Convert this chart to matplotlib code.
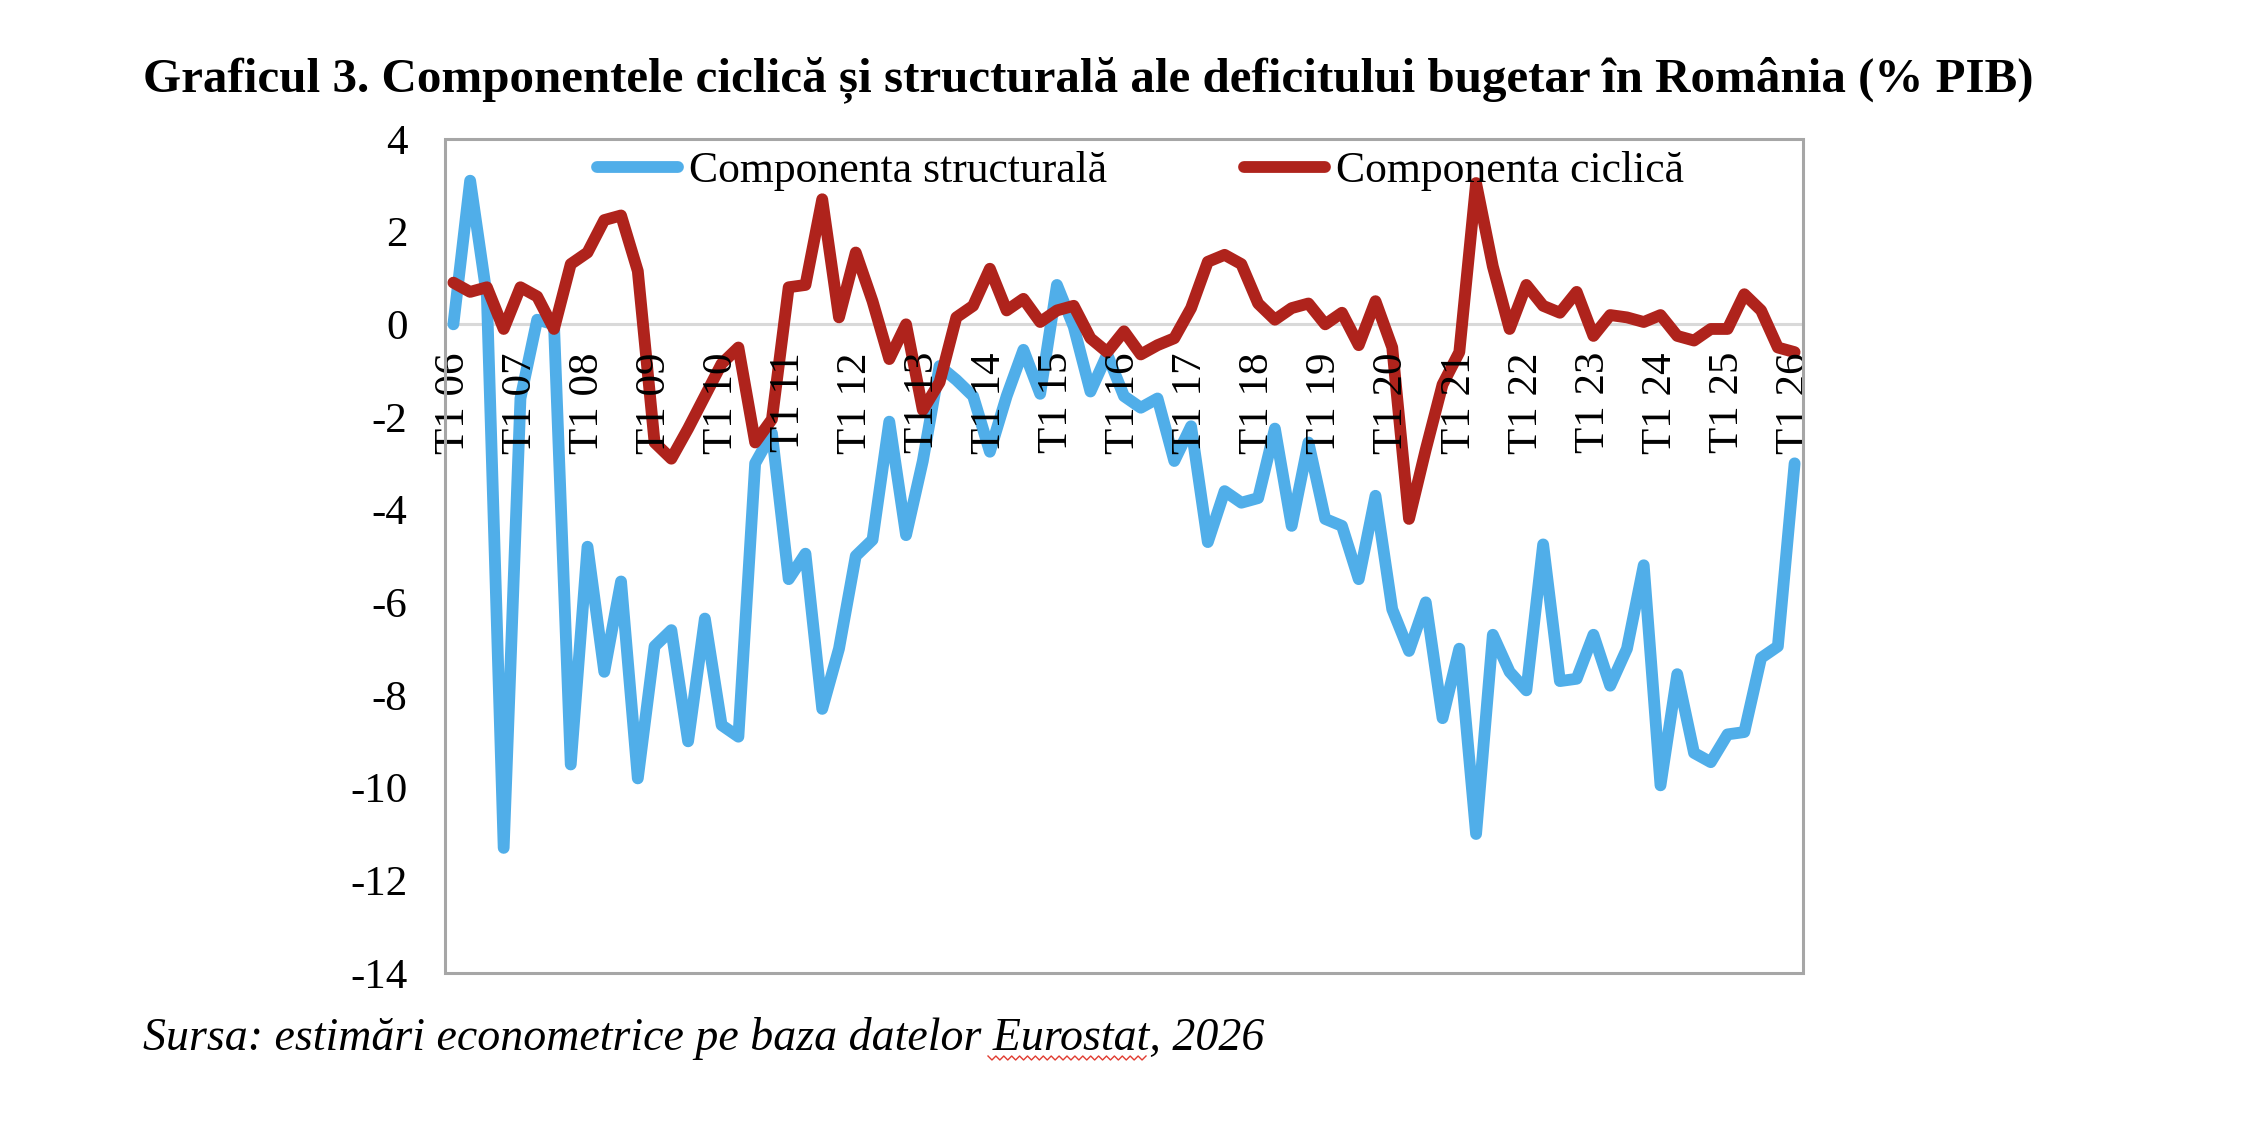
import matplotlib
matplotlib.use('Agg')
import matplotlib.pyplot as plt
import numpy as np
from matplotlib.patches import Rectangle

# ---------------- data ----------------
year_labels = ['T1 06', 'T1 07', 'T1 08', 'T1 09', 'T1 10', 'T1 11', 'T1 12',
               'T1 13', 'T1 14', 'T1 15', 'T1 16', 'T1 17', 'T1 18', 'T1 19',
               'T1 20', 'T1 21', 'T1 22', 'T1 23', 'T1 24', 'T1 25', 'T1 26']

structural = [0.0, 3.1, 0.6, -11.3, -1.6, 0.1, 0.0, -9.5,
              -4.8, -7.5, -5.55, -9.8, -6.95, -6.6, -9.0, -6.35,
              -8.65, -8.9, -3.0, -2.35, -5.5, -4.95, -8.3, -7.0,
              -5.0, -4.65, -2.1, -4.55, -2.95, -0.9, -1.2, -1.55,
              -2.75, -1.55, -0.55, -1.5, 0.85, -0.05, -1.45, -0.65,
              -1.55, -1.8, -1.6, -2.95, -2.2, -4.7, -3.6, -3.85,
              -3.75, -2.25, -4.35, -2.55, -4.2, -4.35, -5.5, -3.7,
              -6.15, -7.05, -6.0, -8.5, -7.0, -11.0, -6.7, -7.5,
              -7.9, -4.75, -7.7, -7.65, -6.7, -7.8, -7.0, -5.2,
              -9.95, -7.55, -9.25, -9.45, -8.85, -8.8, -7.2, -6.95,
              -3.0]

cyclical = [0.9, 0.7, 0.8, -0.1, 0.8, 0.6, -0.1, 1.3,
            1.55, 2.25, 2.35, 1.15, -2.55, -2.9, -2.25, -1.55,
            -0.85, -0.5, -2.55, -2.05, 0.8, 0.85, 2.7, 0.15,
            1.55, 0.5, -0.75, 0.0, -1.85, -1.25, 0.15, 0.4,
            1.2, 0.3, 0.55, 0.05, 0.3, 0.4, -0.3, -0.6,
            -0.15, -0.65, -0.45, -0.3, 0.35, 1.35, 1.5, 1.3,
            0.45, 0.1, 0.35, 0.45, 0.0, 0.25, -0.45, 0.5,
            -0.5, -4.2, -2.7, -1.3, -0.6, 3.05, 1.25, -0.1,
            0.85, 0.4, 0.25, 0.7, -0.25, 0.2, 0.15, 0.05,
            0.2, -0.25, -0.35, -0.1, -0.1, 0.65, 0.3, -0.5,
            -0.6]

y_ticks = [4, 2, 0, -2, -4, -6, -8, -10, -12, -14]

title = 'Graficul 3. Componentele ciclică și structurală ale deficitului bugetar în România (% PIB)'
source = 'Sursa: estimări econometrice pe baza datelor Eurostat, 2026'
name_struct = 'Componenta structurală'
name_cycl = 'Componenta ciclică'

# ---------------- style ----------------
BLUE = '#50AEE9'
RED = '#AF231C'
FRAME = '#A6A6A6'
ZERO = '#D9D9D9'
FS = 31

plt.rcParams['font.family'] = ['Liberation Serif', 'DejaVu Serif']

W, H = 2244, 1146
fig = plt.figure(figsize=(W / 100, H / 100), dpi=100)
L, R, T, B = 445, 1803, 139, 973
ax = fig.add_axes([L / W, 1 - B / H, (R - L) / W, (B - T) / H])

x = np.arange(len(structural))
ax.plot(x, structural, color=BLUE, lw=8.5, solid_joinstyle='round',
        solid_capstyle='round', label=name_struct, zorder=2)
ax.plot(x, cyclical, color=RED, lw=8.5, solid_joinstyle='round',
        solid_capstyle='round', label=name_cycl, zorder=2)

ax.set_xlim(-0.5, len(structural) - 0.5)
ax.set_ylim(min(y_ticks), max(y_ticks))
ax.set_yticks(y_ticks)
ax.set_yticklabels([str(v) for v in y_ticks])
ax.tick_params(axis='y', length=0, pad=27, labelsize=FS)

ax.set_xticks(x[::4])
ax.set_xticklabels(year_labels)
ax.tick_params(axis='x', length=0, pad=20, labelsize=FS, labelrotation=90)

ax.set_axisbelow(False)
for s in ['top', 'right', 'left']:
    ax.spines[s].set_visible(False)
ax.spines['bottom'].set_position(('data', 0))
ax.spines['bottom'].set_color(ZERO)
ax.spines['bottom'].set_linewidth(2.2)
ax.spines['bottom'].set_zorder(1)

ax.add_patch(Rectangle((0, 0), 1, 1, transform=ax.transAxes, fill=False,
                       ec=FRAME, lw=2.2, clip_on=False, zorder=2.6))

leg = ax.legend(loc='center left', bbox_to_anchor=(597 / W, 1 - 171 / H),
                bbox_transform=fig.transFigure, ncol=2, frameon=False,
                fontsize=31.5, handlelength=1.85, handletextpad=0.25,
                columnspacing=3.14, borderpad=0, borderaxespad=0)

fig.text(143 / W, 1 - 80 / H, title, fontsize=35.3, fontweight='bold',
         ha='left', va='center')
fig.text(143 / W, 1 - 1039 / H, source, fontsize=33, style='italic',
         ha='left', va='center')

# spell-check squiggle under "Eurostat"
sx = np.linspace(988, 1146, 41)
sy = 1058 + np.where(np.arange(41) % 2 == 0, -2.0, 2.0)
fig.add_artist(plt.Line2D(sx / W, 1 - sy / H, color='#E03C31', lw=1.0,
                          transform=fig.transFigure))

fig.savefig('out.png', dpi=100)
